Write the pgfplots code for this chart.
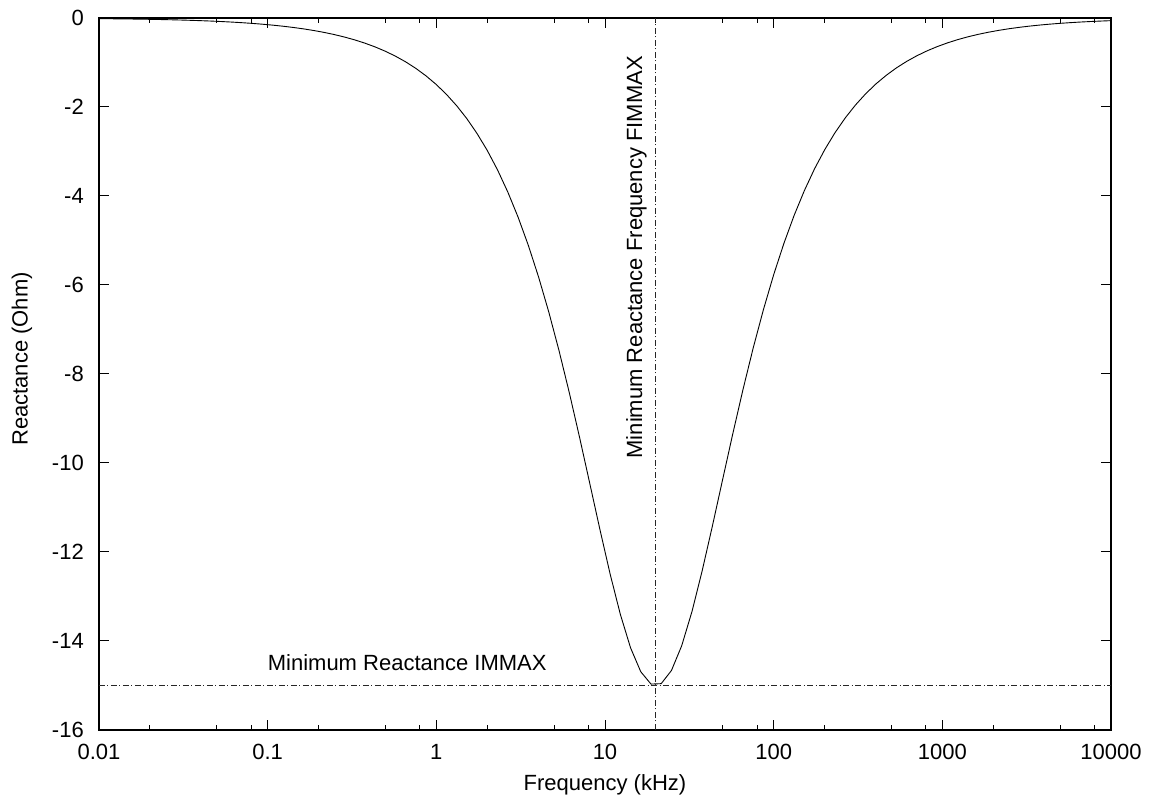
\documentclass[border=0pt]{standalone}
\usepackage{pgfplots}
\pgfplotsset{compat=1.18}
\usepackage{fontspec}
\setmainfont{Liberation Sans}
\begin{document}
\begin{tikzpicture}
\useasboundingbox (-99pt,-72pt) rectangle (1054pt,730pt);
\begin{axis}[
  name=ax,
  scale only axis,
  width=1012pt, height=712pt,
  xmode=log,
  xmin=0.01, xmax=10000,
  ymin=-16, ymax=0,
  font=\fontsize{22}{26}\selectfont,
  axis line style={line width=1.4pt},
  tick style={line width=1pt, black},
  major tick length=10pt,
  minor tick length=5pt,
  tick align=inside,
  tick pos=both,
  xtick={0.01,0.1,1,10,100,1000,10000},
  xticklabels={0.01,0.1,1,10,100,1000,10000},
  minor xtick={0.02,0.05,0.08,0.2,0.5,0.8,2,5,8,20,50,80,200,500,800,2000,5000,8000},
  ytick={-16,-14,-12,-10,-8,-6,-4,-2,0},
  yticklabels={-16,-14,-12,-10,-8,-6,-4,-2,0},
  xticklabel style={inner sep=0pt, anchor=north, yshift=-14pt},
  yticklabel style={inner sep=0pt, anchor=east, xshift=-15pt},
  xlabel={Frequency (kHz)},
  xlabel style={at={(axis description cs:0.5,0)}, anchor=center, yshift=-55pt, inner sep=0pt},
  clip=true,
]
\addplot[black, line width=0.9pt] coordinates {
(0.01,-0.0150) (0.0114976,-0.01725) (0.0132194,-0.01983) (0.0151991,-0.02280) (0.0174753,-0.02621)
(0.0200923,-0.03014) (0.0231013,-0.03465) (0.0265609,-0.03984) (0.0305386,-0.04581) (0.0351119,-0.05267)
(0.0403702,-0.06056) (0.0464159,-0.06962) (0.0533670,-0.08005) (0.0613591,-0.09204) (0.0705480,-0.10582)
(0.0811131,-0.12167) (0.0932603,-0.13989) (0.107227,-0.16084) (0.123285,-0.18492) (0.141747,-0.21262)
(0.162975,-0.2444) (0.187382,-0.2810) (0.215443,-0.3231) (0.247708,-0.3715) (0.284804,-0.4271)
(0.327455,-0.4910) (0.376494,-0.5645) (0.432876,-0.6490) (0.497702,-0.7461) (0.572237,-0.8577)
(0.657933,-0.9858) (0.756463,-1.1331) (0.869749,-1.3022) (1.0,-1.4963) (1.14976,-1.7190)
(1.32194,-1.9743) (1.51991,-2.2668) (1.74753,-2.6014) (2.00923,-2.9837) (2.31013,-3.4196)
(2.65609,-3.9151) (3.05386,-4.4764) (3.51119,-5.1093) (4.03702,-5.8185) (4.64159,-6.6066)
(5.33670,-7.4730) (6.13591,-8.4121) (7.05480,-9.4112) (8.11131,-10.4485) (9.32603,-11.4906)
(10.7227,-12.4931) (12.3285,-13.4007) (14.1747,-14.1530) (16.2975,-14.6911) (18.7382,-14.9682)
(21.5443,-14.9586) (24.7708,-14.6632) (28.4804,-14.1093) (32.7455,-13.3449) (37.6494,-12.4291)
(43.2876,-11.4225) (49.7702,-10.3793) (57.2237,-9.3438) (65.7933,-8.3481) (75.6463,-7.4134)
(86.9749,-6.5521) (100,-5.7692) (114.976,-5.0652) (132.194,-4.4372) (151.991,-3.8804)
(174.753,-3.3890) (200.923,-2.9569) (231.013,-2.5779) (265.609,-2.2462) (305.386,-1.9563)
(351.119,-1.7033) (403.702,-1.4826) (464.159,-1.2903) (533.670,-1.1227) (613.591,-0.9768)
(705.480,-0.8498) (811.131,-0.7393) (932.603,-0.6431) (1072.27,-0.5594) (1232.85,-0.4866)
(1417.47,-0.4232) (1629.75,-0.3681) (1873.82,-0.3202) (2154.43,-0.2785) (2477.08,-0.2422)
(2848.04,-0.2107) (3274.55,-0.1832) (3764.94,-0.1594) (4328.76,-0.1386) (4977.02,-0.1206)
(5722.37,-0.1049) (6579.33,-0.0912) (7564.63,-0.0793) (8697.49,-0.0690) (10000,-0.0600)
};
\addplot[black!85, line width=0.8pt, dash pattern=on 6pt off 2.5pt on 1pt off 2.5pt] coordinates {(0.01,-15) (10000,-15)};
\addplot[black!85, line width=0.8pt, dash pattern=on 6pt off 2.5pt on 1pt off 2.5pt] coordinates {(20,-16) (20,0)};
\node[anchor=base west, inner sep=0pt] at (axis cs:0.1,-14.67) {Minimum Reactance IMMAX};
\node[anchor=base west, inner sep=0pt, rotate=90] at (axis cs:16.6,-9.9) {Minimum Reactance Frequency FIMMAX};
\end{axis}
\node[inner sep=0pt, rotate=90, font=\fontsize{22}{26}\selectfont] at (-77pt,371pt) {Reactance (Ohm)};
\end{tikzpicture}
\end{document}
